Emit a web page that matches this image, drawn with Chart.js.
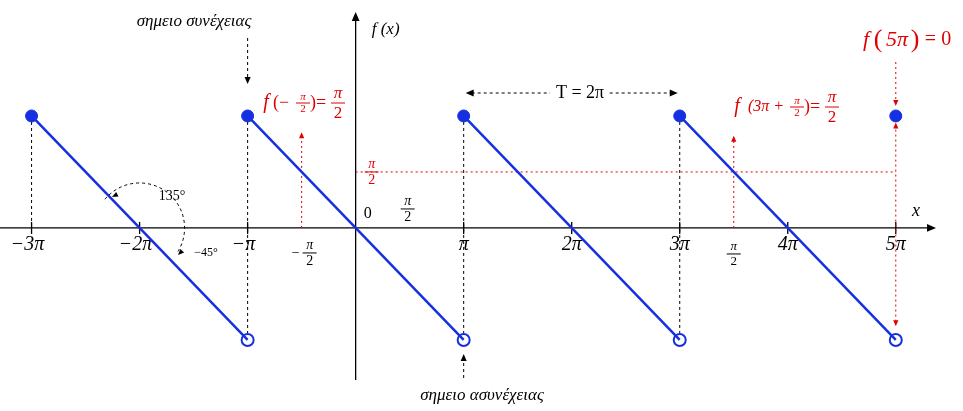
<!DOCTYPE html>
<html><head><meta charset="utf-8">
<script src="https://cdn.jsdelivr.net/npm/chart.js@4"></script>
<style>html,body{margin:0;padding:0;background:#fff;overflow:hidden}</style>
</head><body><canvas id="c" width="963" height="411" style="display:block;width:963px;height:411px"></canvas>
<script>
const P = Math.PI;
const segStartX = [-3*P, -P, P, 3*P];
const segEndX = [-P, P, 3*P, 5*P];
const topY = P, botY = -P;
const filledX = [-3*P, -P, P, 3*P, 5*P];
const openX = [-P, P, 3*P, 5*P];
const tickX = [-3*P, -2*P, -P, P, 2*P, 3*P, 4*P, 5*P];
const tickLabels = ['−3π','−2π','−π','π','2π','3π','4π','5π'];

const datasets = [];
segStartX.forEach((s,i)=>datasets.push({type:'line',data:[{x:s,y:topY},{x:segEndX[i],y:botY}],borderColor:'#1530e0',borderWidth:2.5,pointRadius:0,fill:false}));
datasets.push({type:'scatter',data:filledX.map(x=>({x,y:topY})),pointRadius:6,backgroundColor:'#1530e0',borderColor:'#1530e0'});
datasets.push({type:'scatter',data:openX.map(x=>({x,y:botY})),pointRadius:6,backgroundColor:'#fff',borderColor:'#1530e0',borderWidth:2});

function arrowHead(ctx,x,y,ang,col,s=7){ctx.save();ctx.fillStyle=col;ctx.translate(x,y);ctx.rotate(ang);ctx.beginPath();ctx.moveTo(0,0);ctx.lineTo(-s,-s/2.3);ctx.lineTo(-s,s/2.3);ctx.closePath();ctx.fill();ctx.restore();}
function line(ctx,x1,y1,x2,y2,col,dash,w=1){ctx.save();ctx.strokeStyle=col;ctx.lineWidth=w;ctx.setLineDash(dash||[]);ctx.beginPath();ctx.moveTo(x1,y1);ctx.lineTo(x2,y2);ctx.stroke();ctx.restore();}
function text(ctx,t,x,y,font,col,al='center'){ctx.save();ctx.font=font;ctx.fillStyle=col;ctx.textAlign=al;ctx.textBaseline='middle';ctx.fillText(t,x,y);ctx.restore();}
function frac(ctx,x,y,col,sz=15,neg=false){const f='italic '+sz+"px 'Liberation Serif'";text(ctx,'π',x,y-sz*0.55,f,col);line(ctx,x-7,y,x+7,y,col,null,1);text(ctx,'2',x,y+sz*0.6,sz+"px 'Liberation Serif'",col);if(neg)text(ctx,'−',x-14,y,sz+"px 'Liberation Serif'",col);}

const deco={id:'deco',beforeDatasetsDraw(ch){
 const ctx=ch.ctx,X=ch.scales.x,Y=ch.scales.y;const px=v=>X.getPixelForValue(v),py=v=>Y.getPixelForValue(v);
 const y0=py(0),x0=px(0),red='#e00000',blk='#000';
 line(ctx,0,y0,930,y0,blk,null,1.3);arrowHead(ctx,936,y0,0,blk,9);
 line(ctx,x0,380,x0,18,blk,null,1.3);arrowHead(ctx,x0,12,-Math.PI/2,blk,9);
 tickX.forEach((v,i)=>{line(ctx,px(v),y0-6,px(v),y0+6,blk,null,1.3);
  text(ctx,tickLabels[i],px(v)+(v<0?-4:0),y0+17,"italic 20px 'Liberation Serif'",blk);});
 text(ctx,'0',x0+12,y0-14,"16px 'Liberation Serif'",blk);
 text(ctx,'x',916,y0-17,"italic 18px 'Liberation Serif'",blk);
 text(ctx,'f (x)',x0+30,30,"italic 17px 'Liberation Serif'",blk);
 frac(ctx,px(P/2)-2,y0-19,blk,14);
 [-3*P,-P,P,3*P].forEach(v=>line(ctx,px(v),py(topY),px(v),y0,blk,[3,3]));
 [-P,P,3*P].forEach(v=>line(ctx,px(v),py(botY),px(v),y0,blk,[3,3]));
 const yh=py(P/2);line(ctx,x0,yh,px(5*P),yh,red,[2,3]);
 frac(ctx,x0+16,yh,red,14);
 line(ctx,px(-P/2),y0,px(-P/2),py(2.6),red,[2,3]);arrowHead(ctx,px(-P/2),py(2.6)-3,-Math.PI/2,red,6);
 frac(ctx,px(-P/2)+8,y0+25,blk,14,true);
 line(ctx,px(3.5*P),y0,px(3.5*P),py(2.5),red,[2,3]);arrowHead(ctx,px(3.5*P),py(2.5)-3,-Math.PI/2,red,6);
 frac(ctx,px(3.5*P),y0+26,blk,13);
 line(ctx,px(5*P),py(2.9),px(5*P),py(-2.7),red,[2,3]);arrowHead(ctx,px(5*P),py(2.9)-2,-Math.PI/2,red,6);arrowHead(ctx,px(5*P),py(-2.7)+2,Math.PI/2,red,6);
 line(ctx,px(5*P),62,px(5*P),py(topY)-14,red,[2,3]);arrowHead(ctx,px(5*P),py(topY)-10,Math.PI/2,red,6);
 text(ctx,'f',866,40,"italic 22px 'Liberation Serif'",red);text(ctx,'(',878,40,"26px 'Liberation Serif'",red);
 text(ctx,'5π',897,40,"italic 22px 'Liberation Serif'",red);text(ctx,')',915,40,"26px 'Liberation Serif'",red);
 text(ctx,'= 0',938,40,"20px 'Liberation Serif'",red);
 text(ctx,'f',266,103,"italic 20px 'Liberation Serif'",red);text(ctx,'(−',281,103,"18px 'Liberation Serif'",red);
 frac(ctx,303,103,red,11);text(ctx,')=',318,103,"18px 'Liberation Serif'",red);frac(ctx,338,103,red,17);
 text(ctx,'f',737,107,"italic 20px 'Liberation Serif'",red);text(ctx,'(3π +',766,107,"italic 16px 'Liberation Serif'",red);
 frac(ctx,797,107,red,11);text(ctx,')=',812,107,"18px 'Liberation Serif'",red);frac(ctx,832,107,red,17);
 const yt=93;line(ctx,px(P)+8,yt,px(3*P)-8,yt,blk,[3,3]);arrowHead(ctx,px(P)+2,yt,Math.PI,blk,8);arrowHead(ctx,px(3*P)-2,yt,0,blk,8);
 ctx.save();ctx.fillStyle='#fff';ctx.fillRect(550,83,58,20);ctx.restore();
 text(ctx,'T = 2π',580,93,"18px 'Liberation Serif'",blk);
 text(ctx,'σημειο συνέχειας',194,22,"italic 17px 'Liberation Serif'",blk);
 line(ctx,px(-P),38,px(-P),78,blk,[3,3]);arrowHead(ctx,px(-P),84,Math.PI/2,blk,7);
 text(ctx,'σημειο ασυνέχειας',482,396,"italic 17px 'Liberation Serif'",blk);
 line(ctx,px(P),378,px(P),360,blk,[3,3]);arrowHead(ctx,px(P),354,-Math.PI/2,blk,7);
 ctx.save();ctx.strokeStyle=blk;ctx.setLineDash([3,3]);ctx.beginPath();ctx.arc(px(-2*P),y0,45,-2.45,0.55);ctx.stroke();ctx.restore();
 arrowHead(ctx,112,197,Math.PI*0.85,blk,6);arrowHead(ctx,178,255,Math.PI*0.75,blk,6);
 text(ctx,'135°',172,196,"14px 'Liberation Serif'",blk);
 text(ctx,'−45°',206,253,"12px 'Liberation Serif'",blk);
}};

new Chart(document.getElementById('c'),{data:{datasets},
 options:{responsive:false,devicePixelRatio:1,animation:false,layout:{padding:0},
  plugins:{legend:{display:false},tooltip:{enabled:false}},
  scales:{x:{type:'linear',display:false,min:-10.11,max:17.43},y:{type:'linear',display:false,min:-4.91,max:6.17}}},
 plugins:[deco]});
</script></body></html>
